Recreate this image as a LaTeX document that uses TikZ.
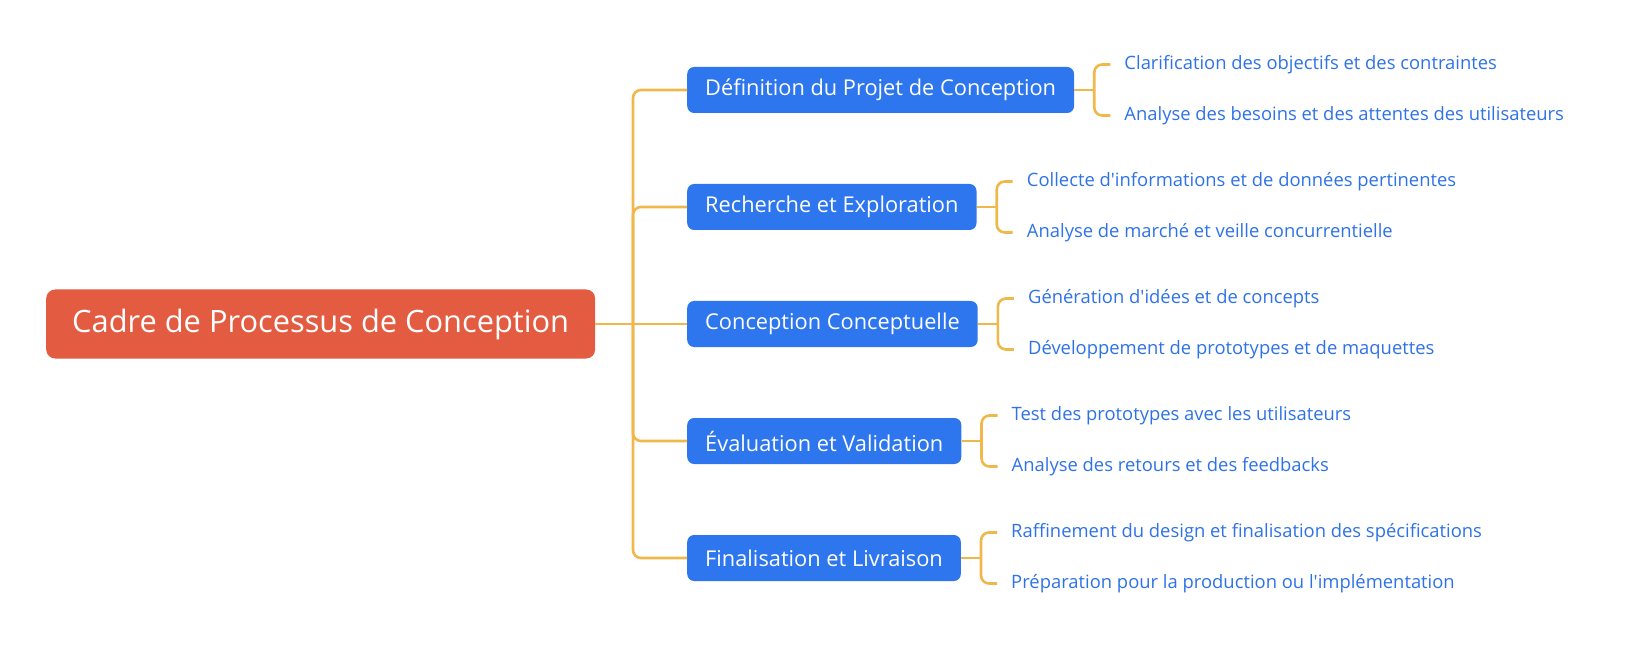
\documentclass[tikz,border=0pt]{standalone}
\usepackage{fontspec}
\setmainfont{Open Sans}
\usetikzlibrary{positioning}
\definecolor{rootred}{RGB}{227,91,65}
\definecolor{branchblue}{RGB}{45,118,238}
\definecolor{leafblue}{RGB}{46,114,232}
\definecolor{linkorange}{RGB}{240,184,74}

\begin{document}
\begin{tikzpicture}[
  x=1pt, y=-1pt,
  link/.style={draw=linkorange, line width=2.6pt, rounded corners=8pt},
  rootbox/.style={fill=rootred, text=white, rounded corners=9pt,
    minimum height=69pt, inner xsep=26pt, font=\fontsize{30.8}{36}\selectfont},
  branch/.style={fill=branchblue, text=white, rounded corners=7pt,
    minimum height=46pt, inner xsep=18pt, font=\fontsize{21.8}{26}\selectfont},
  leaf/.style={text=leafblue, inner xsep=14pt, inner ysep=2pt,
    font=\fontsize{18.4}{22}\selectfont}
]
\useasboundingbox (0,0) rectangle (1630,660);

\node[rootbox, anchor=west] (root) at (46,324) {Cadre de Processus de Conception};

\node[branch, anchor=west] (b1) at (687,90) {Définition du Projet de Conception};
\node[branch, anchor=west] (b2) at (687,207) {Recherche et Exploration};
\node[branch, anchor=west] (b3) at (687,324) {Conception Conceptuelle};
\node[branch, anchor=west] (b4) at (687,441) {Évaluation et Validation};
\node[branch, anchor=west] (b5) at (687,558) {Finalisation et Livraison};

\node[leaf, right=36pt of b1, yshift=25.5pt] (l11) {Clarification des objectifs et des contraintes};
\node[leaf, right=36pt of b1, yshift=-25.5pt] (l12) {Analyse des besoins et des attentes des utilisateurs};
\node[leaf, right=36pt of b2, yshift=25.5pt] (l21) {Collecte d\textquotesingle informations et de données pertinentes};
\node[leaf, right=36pt of b2, yshift=-25.5pt] (l22) {Analyse de marché et veille concurrentielle};
\node[leaf, right=36pt of b3, yshift=25.5pt] (l31) {Génération d\textquotesingle idées et de concepts};
\node[leaf, right=36pt of b3, yshift=-25.5pt] (l32) {Développement de prototypes et de maquettes};
\node[leaf, right=36pt of b4, yshift=25.5pt] (l41) {Test des prototypes avec les utilisateurs};
\node[leaf, right=36pt of b4, yshift=-25.5pt] (l42) {Analyse des retours et des feedbacks};
\node[leaf, right=36pt of b5, yshift=25.5pt] (l51) {Raffinement du design et finalisation des spécifications};
\node[leaf, right=36pt of b5, yshift=-25.5pt] (l52) {Préparation pour la production ou l\textquotesingle implémentation};

% trunk
\coordinate (fork) at (633,324);
\draw[link] (root.east) -- (b3.west);
\draw[link] (b1.west) -| (fork) |- (b5.west);
\foreach \i in {2,4}
  \draw[link] (b\i.west) -| (fork);

% brackets
\foreach \i in {1,...,5} {
  \draw[link] (b\i.east) -- ++(20,0) coordinate (k\i);
  \draw[link] (l\i1.west) -| (k\i) |- (l\i2.west);
}
\end{tikzpicture}
\end{document}
